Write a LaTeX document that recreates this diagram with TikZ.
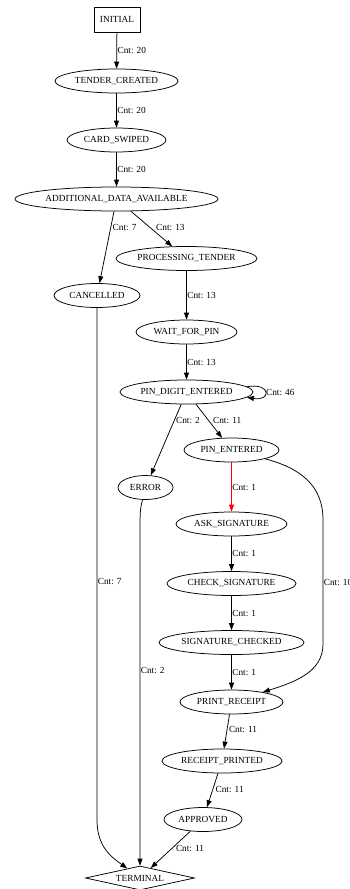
\documentclass[tikz,border=0pt]{standalone}
\usepackage{fontspec}
\setmainfont{Liberation Serif}
\usetikzlibrary{shapes.geometric,arrows.meta}

\begin{document}
\begin{tikzpicture}[x=1pt,y=-1pt,line width=.75pt,
  every node/.style={font=\fontsize{9.3}{11}\selectfont},
  state/.style={ellipse,draw,inner sep=0pt,minimum height=24pt},
  cnt/.style={anchor=west,inner sep=.5pt,text=black},
  >={Triangle[length=7pt,width=5pt]}]
  \useasboundingbox (0,0) rectangle (349,889);
  \node (initial) [draw,inner sep=0pt,minimum width=46pt,minimum height=25pt] at (117,19.5) {INITIAL};
  \node (tender) [state,minimum width=123pt] at (116.5,81) {TENDER\_CREATED};
  \node (card) [state,minimum width=99pt] at (116.5,140) {CARD\_SWIPED};
  \node (adddata) [state,minimum width=203pt] at (116.5,199) {ADDITIONAL\_DATA\_AVAILABLE};
  \node (processing) [state,minimum width=141pt] at (186.5,258.5) {PROCESSING\_TENDER};
  \node (cancelled) [state,minimum width=86pt] at (97,295.5) {CANCELLED};
  \node (waitpin) [state,minimum width=101pt] at (186.5,332) {WAIT\_FOR\_PIN};
  \node (pindigit) [state,minimum width=133pt] at (186.5,392) {PIN\_DIGIT\_ENTERED};
  \node (pinentered) [state,minimum width=95pt] at (231.5,450) {PIN\_ENTERED};
  \node (error) [state,minimum width=55pt] at (145.5,487.5) {ERROR};
  \node (asksig) [state,minimum width=111pt] at (231.5,524) {ASK\_SIGNATURE};
  \node (checksig) [state,minimum width=129pt] at (231.5,583.5) {CHECK\_SIGNATURE};
  \node (sigchecked) [state,minimum width=145pt] at (231.5,642.5) {SIGNATURE\_CHECKED};
  \node (print) [state,minimum width=103pt] at (231.5,702) {PRINT\_RECEIPT};
  \node (printed) [state,minimum width=120pt] at (222,761) {RECEIPT\_PRINTED};
  \node (approved) [state,minimum width=78pt] at (203,819.5) {APPROVED};
  \node (terminal) [diamond,draw,aspect=4.5,inner sep=0pt,minimum width=109pt,minimum height=24pt] at (140,878) {TERMINAL};

  \draw[->] (initial) -- (tender) node[cnt,midway] {Cnt: 20};
  \draw[->] (tender) -- (card) node[cnt,midway] {Cnt: 20};
  \draw[->] (card) -- (adddata) node[cnt,midway] {Cnt: 20};
  \draw[->] (adddata) -- (cancelled) node[cnt,pos=.22,xshift=1pt] {Cnt: 7};
  \draw[->] (adddata) -- (processing) node[cnt,pos=.47,xshift=5pt] {Cnt: 13};
  \draw[->] (processing) -- (waitpin) node[cnt,midway] {Cnt: 13};
  \draw[->] (waitpin) -- (pindigit) node[cnt,midway] {Cnt: 13};
  \draw[->] (pindigit.5) to[out=10,in=-10,looseness=6] node[cnt,pos=.5] {Cnt: 46} (pindigit.-5);
  \draw[->] (pindigit) -- (error) node[cnt,pos=.23,xshift=1pt] {Cnt: 2};
  \draw[->] (pindigit) -- (pinentered) node[cnt,pos=.47,xshift=4pt] {Cnt: 11};
  \draw[->,red] (pinentered) -- (asksig) node[cnt,midway] {Cnt: 1};
  \draw[->] (asksig) -- (checksig) node[cnt,midway] {Cnt: 1};
  \draw[->] (checksig) -- (sigchecked) node[cnt,midway] {Cnt: 1};
  \draw[->] (sigchecked) -- (print) node[cnt,midway] {Cnt: 1};
  \draw[->] (pinentered) .. controls (300,468) and (323,485) .. (323,520)
    -- (323,644) node[cnt,midway] {Cnt: 10}
    .. controls (323,672) and (295,682) .. (print);
  \draw[->] (print) -- (printed) node[cnt,pos=.43,xshift=1pt] {Cnt: 11};
  \draw[->] (printed) -- (approved) node[cnt,pos=.48,xshift=2pt] {Cnt: 11};
  \draw[->] (approved) -- (terminal) node[cnt,pos=.46,xshift=3pt] {Cnt: 11};
  \draw[->] (cancelled) -- (97,820) node[cnt,pos=.535] {Cnt: 7}
    .. controls (97,848) and (113,858) .. (terminal);
  \draw[->] (error) .. controls (140,510) .. (140,540)
    -- (terminal) node[cnt,pos=.4] {Cnt: 2};
\end{tikzpicture}
\end{document}
